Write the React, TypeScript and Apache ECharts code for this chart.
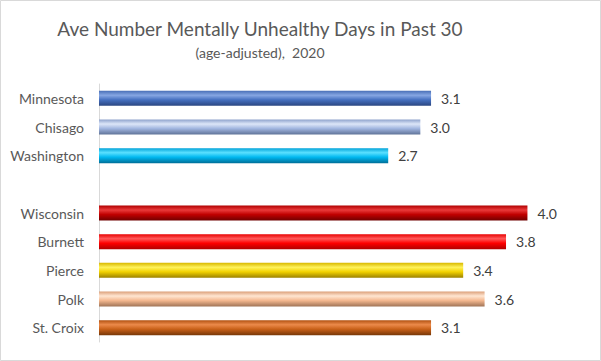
import React, { useEffect, useRef } from "react";
import * as echarts from "echarts";

const categories = ["Minnesota", "Chisago", "Washington", "", "Wisconsin", "Burnett", "Pierce", "Polk", "St. Croix"];
const values: (number | null)[] = [3.1, 3.0, 2.7, null, 4.0, 3.8, 3.4, 3.6, 3.1];
// [edge, highlight, mid, bottom]
const barColors: string[][] = [
  ["#4a70b8", "#86a6e2", "#4670c0", "#2a4680"],
  ["#8ea2cc", "#dde6f8", "#a2b6e0", "#5f7398"],
  ["#00a2d8", "#5ae0ff", "#00b8f0", "#006e98"],
  ["#b00000", "#ea3a3a", "#c00000", "#700000"],
  ["#e80000", "#ff5a5a", "#ff0000", "#b00000"],
  ["#d8b800", "#fff25a", "#f2d200", "#9a8000"],
  ["#dca07a", "#ffe6d2", "#f4b890", "#a07456"],
  ["#b05010", "#ec8a4a", "#c86018", "#783808"],
];
const titleText = "Ave Number Mentally Unhealthy Days in Past 30";
const subtitleText = "(age-adjusted),  2020";

export default function App() {
  const ref = useRef<HTMLDivElement>(null);
  useEffect(() => {
    if (!ref.current) return;
    const chart = echarts.init(ref.current, null, { renderer: "svg" });
    let ci = 0;
    const data = values.map((v) => {
      if (v === null) return { value: null };
      const c = barColors[ci++];
      return {
        value: v,
        itemStyle: {
          color: {
            type: "linear", x: 0, y: 0, x2: 0, y2: 1,
            colorStops: [
              { offset: 0, color: c[0] },
              { offset: 0.3, color: c[1] },
              { offset: 0.6, color: c[2] },
              { offset: 1, color: c[3] },
            ],
          },
        },
      };
    });
    chart.setOption({
      animation: false,
      backgroundColor: "#ffffff",
      grid: { left: 99, top: 84, width: 482, height: 258, containLabel: false },
      xAxis: { type: "value", min: 0, max: 4.5, show: false },
      yAxis: {
        type: "category",
        data: categories,
        inverse: true,
        axisLine: { show: true, lineStyle: { color: "#d9d9d9", width: 1 } },
        axisTick: { show: false },
        axisLabel: { margin: 15, color: "#595959", fontSize: 14, fontFamily: "Lato" },
      },
      series: [
        {
          type: "bar",
          data,
          barWidth: 15,
          label: {
            show: true,
            position: "right",
            distance: 10,
            color: "#404040",
            fontSize: 14,
            fontFamily: "Lato",
            formatter: (p: any) => (p.value == null ? "" : Number(p.value).toFixed(1)),
          },
        },
      ],
      graphic: [
        { type: "rect", shape: { x: 0.5, y: 0.5, width: 600, height: 360 }, style: { fill: "none", stroke: "#d9d9d9", lineWidth: 1 }, silent: true },
        { type: "text", x: 260, y: 28, style: { text: titleText, fontSize: 19, fontFamily: "Lato", fill: "#595959", textAlign: "center", textVerticalAlign: "middle" } },
        { type: "text", x: 260, y: 52, style: { text: subtitleText, fontSize: 14, fontFamily: "Lato", fill: "#595959", textAlign: "center", textVerticalAlign: "middle" } },
      ],
    });
    return () => chart.dispose();
  }, []);
  return <div ref={ref} style={{ position: "absolute", left: 0, top: 0, width: 601, height: 361 }} />;
}
